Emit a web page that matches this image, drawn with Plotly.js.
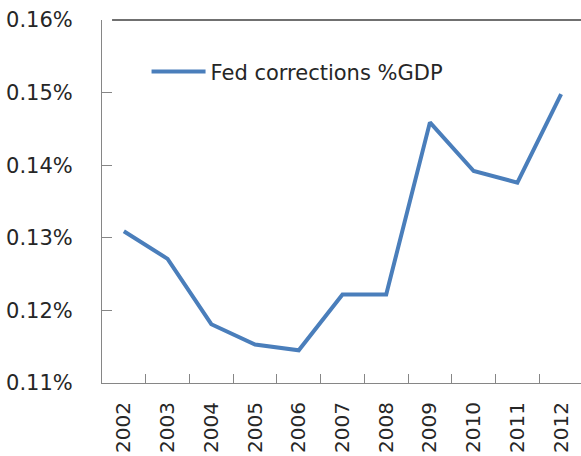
<!DOCTYPE html>
<html>
<head>
<meta charset="utf-8">
<script src="https://cdn.plot.ly/plotly-3.0.1.min.js"></script>
<style>html,body{margin:0;padding:0;background:#fff;}#chart{width:581px;height:456px;}</style>
</head>
<body>
<div id="chart"></div>
<script>
const years = ['2002','2003','2004','2005','2006','2007','2008','2009','2010','2011','2012'];
const fedCorrections = [0.1309, 0.1271, 0.1181, 0.1153, 0.1145, 0.1222, 0.1222, 0.1459, 0.1392, 0.1376, 0.1498];
const seriesName = 'Fed corrections %GDP';
const yTicks = [0.11, 0.12, 0.13, 0.14, 0.15, 0.16];

const font = {family: 'DejaVu Sans, sans-serif', size: 21, color: '#262626'};
const xFont = {family: 'DejaVu Sans, sans-serif', size: 20, color: '#262626'};

Plotly.newPlot('chart', [{
  x: years,
  y: fedCorrections,
  type: 'scatter',
  mode: 'lines',
  name: seriesName,
  line: {color: '#4a7ebb', width: 4}
}], {
  width: 581, height: 456,
  margin: {l: 102, r: 0, t: 20, b: 73},
  paper_bgcolor: '#fff', plot_bgcolor: '#fff',
  font: font,
  showlegend: true,
  legend: {x: 0.093, y: 0.857, xanchor: 'left', yanchor: 'middle', font: font, bgcolor: 'rgba(0,0,0,0)', itemwidth: 54},
  xaxis: {
    type: 'category', range: [-0.5, 10.455],
    showgrid: false, zeroline: false,
    showline: true, linecolor: '#868686', linewidth: 1,
    ticks: 'inside', ticklen: 9, tickcolor: '#868686', tickson: 'boundaries',
    tickangle: -90, ticklabelstandoff: 10, tickfont: xFont
  },
  yaxis: {
    range: [0.11, 0.16], tickvals: yTicks, ticktext: yTicks.map(v => v.toFixed(2) + '%'),
    showgrid: false, zeroline: false,
    showline: true, linecolor: '#868686', linewidth: 1,
    ticks: 'inside', ticklen: 10, tickcolor: '#868686',
    ticklabelstandoff: 24, tickfont: font
  },
  shapes: [{type: 'line', xref: 'paper', yref: 'paper', x0: 0.021, x1: 1, y0: 1, y1: 1,
            line: {color: '#404040', width: 1.5}}]
}, {displayModeBar: false, staticPlot: true});
</script>
</body>
</html>
